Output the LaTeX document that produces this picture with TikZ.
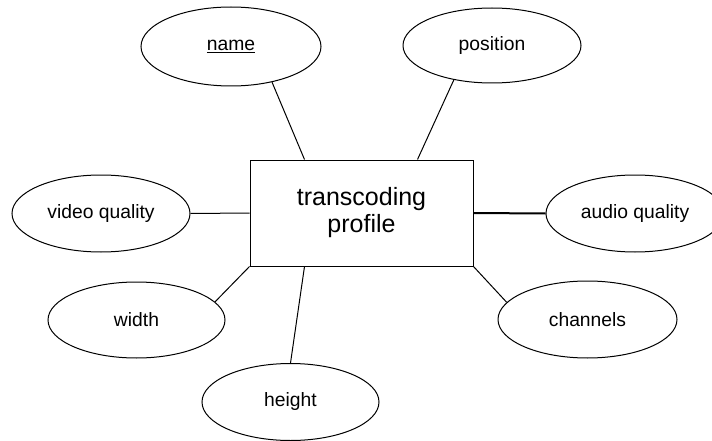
\documentclass[tikz,border=0pt]{standalone}
\usepackage{fontspec}
\setmainfont{Liberation Sans}
\usepackage{tikz}
\usetikzlibrary{shapes.geometric}
\usetikzlibrary{calc}

\tikzset{
    attrib/.style={draw, ellipse, line width=1pt, inner sep=0pt,
        minimum width=178pt, minimum height=77pt,
        font=\fontsize{19.3}{23}\selectfont},
    entity/.style={draw, rectangle, line width=1pt, inner sep=0pt,
        minimum width=223pt, minimum height=106pt, align=center,
        font=\fontsize{25}{27}\selectfont},
    link/.style={line width=1pt}
}

\begin{document}
\begin{tikzpicture}[x=1pt, y=-1pt]
    \def\picw{712}
    \def\pich{441}

    \useasboundingbox (0,0) rectangle (\picw,\pich);
    \clip (0,0) rectangle (\picw,\pich);

    % Entity
    \node[entity] (profile) at (361.5,213) {transcoding\\profile};

    % Attributes
    \node[attrib, minimum width=180pt, minimum height=79pt] (name) at (231,46.5) {\underline{name}};
    \node[attrib, minimum height=75pt] (position) at (492,45.5) {position};
    \node[attrib] (vquality) at (101,213.5) {video quality};
    \node[attrib] (aquality) at (635,213.5) {audio quality};
    \node[attrib, minimum width=177pt, minimum height=76pt] (width) at (136.5,320) {width};
    \node[attrib, minimum width=179pt] (channels) at (587.5,319.5) {channels};
    \node[attrib, minimum width=177pt] (height) at (290.5,402) {height};

    % Links
    \draw[link] (name.-41) -- ($(profile.north west)+(55,0)$);
    \draw[link] (position.222) -- ($(profile.north east)+(-56,0)$);
    \draw[link] (vquality.east) -- (profile.west);
    \draw[link, line width=2pt] (profile.east) -- (aquality.west);
    \draw[link] (width.13) -- (profile.south west);
    \draw[link] (channels.168) -- (profile.south east);
    \draw[link] (height.north) -- ($(profile.south west)+(55,0)$);
\end{tikzpicture}
\end{document}
